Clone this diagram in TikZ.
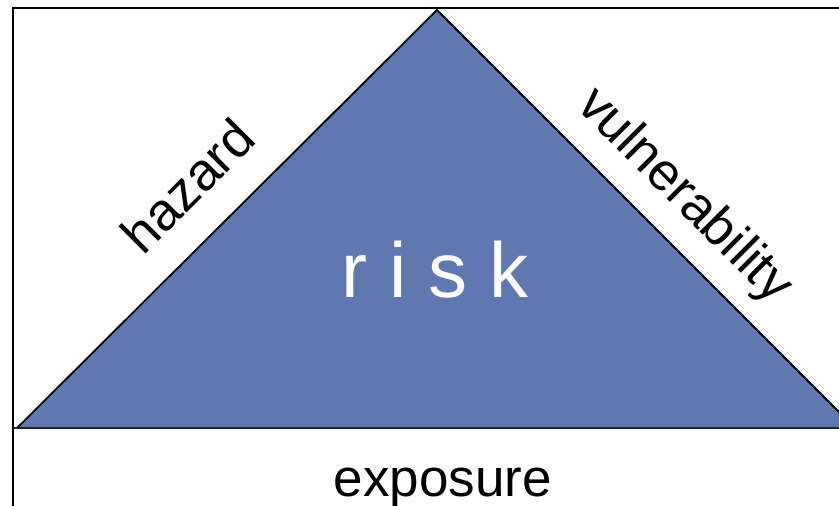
\documentclass[tikz,border=0pt]{standalone}
\usepackage{fontspec}
\setmainfont{Liberation Sans}
\usepackage{tikz}

\definecolor{riskblue}{RGB}{96,120,176}
\definecolor{basenavy}{RGB}{30,34,60}

\tikzset{
  sidelabel/.style={anchor=base, inner sep=0pt, font=\fontsize{53}{60}\selectfont},
  risklabel/.style={anchor=base, inner sep=0pt, text=white, font=\fontsize{78}{90}\selectfont}
}

\begin{document}
\begin{tikzpicture}[x=1pt,y=-1pt]
			\useasboundingbox (0,0) rectangle (839,506);
			\clip (0,0) rectangle (839,506);
			% frame
			\draw[line width=2.8pt] (13,8) rectangle (880,540);
			% triangle
			\coordinate (left) at (17,428);
			\coordinate (apex) at (437,10);
			\coordinate (right) at (855,428);
			\fill[riskblue] (left) -- (apex) -- (right) -- cycle;
			\draw[line width=1.8pt, line join=miter] (left) -- (apex) -- (right);
			\draw[basenavy, line width=2.8pt] (13,428) -- (880,428);
			% labels
			\node[risklabel] (risk) at (435,297) {r i s k};
			\node[sidelabel, rotate=45] (hazard) at (201,199) {hazard};
			\node[sidelabel, rotate=-45] (vuln) at (674,206) {vulnerability};
			\node[sidelabel] (exposure) at (443,496) {exposure};
		\end{tikzpicture}
\end{document}
